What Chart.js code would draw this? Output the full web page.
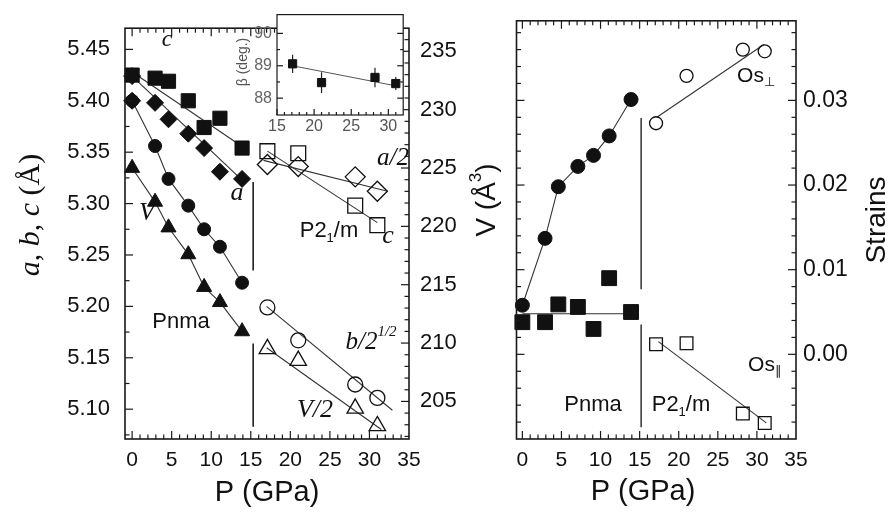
<!DOCTYPE html>
<html>
<head>
<meta charset="utf-8">
<script src="https://cdn.jsdelivr.net/npm/chart.js@4.4.1/dist/chart.umd.min.js"></script>
<style>
  body { margin: 0; background: #fff; }
  #wrap { position: relative; width: 889px; height: 514px; overflow: hidden; }
  #wrap canvas { position: absolute; top: 0; }
</style>
</head>
<body>
<div id="wrap">
  <canvas id="left" width="505" height="514" style="left:0"></canvas>
  <canvas id="right" width="384" height="514" style="left:505px"></canvas>
  <canvas id="inset" width="180" height="150" style="left:230px"></canvas>
</div>
<script>
const SANS = '"Liberation Sans", Arial, sans-serif';
const SERIF = '"Liberation Serif", "Times New Roman", serif';

// tick labels
const xTicks = [0, 5, 10, 15, 20, 25, 30, 35];
const abcTicks = [5.10, 5.15, 5.20, 5.25, 5.30, 5.35, 5.40, 5.45];
const volTicks = [205, 210, 215, 220, 225, 230, 235];
const strainTicks = [0.00, 0.01, 0.02, 0.03];
const betaXTicks = [15, 20, 25, 30];
const betaTicks = [88, 89, 90];

// pressures (GPa)
const pnmaP = [0, 2.9, 4.6, 7.1, 9.1, 11.1, 13.9];
const pnmaAP = [0, 0, 2.9, 4.6, 7.1, 9.1, 11.1, 13.9];
const p21P = [17.1, 21.0, 28.2, 31.0];

// lattice parameters, Pnma (A)
const pnmaC = [5.425, 5.422, 5.419, 5.400, 5.374, 5.383, 5.354];
const pnmaA = [5.424, 5.400, 5.398, 5.382, 5.368, 5.354, 5.331, 5.324];
const pnmaB = [5.400, 5.356, 5.324, 5.298, 5.275, 5.258, 5.223];
const pnmaV = [225.0, 222.1, 219.9, 217.6, 214.8, 213.5, 211.0];

// lattice parameters, P2_1/m
const p21C = [5.351, 5.349, 5.298, 5.279];
const p21A = [5.338, 5.336, 5.326, 5.312];
const p21B = [5.199, 5.167, 5.124, 5.111];
const p21V = [209.5, 208.5, 204.4, 202.9];

// linear fits
const fitPnmaCP = [0, 14], fitPnmaC = [5.428, 5.355];
const fitPnmaAP = [0, 14], fitPnmaA = [5.424, 5.322];
const fitP21CP = [17.1, 31.0], fitP21C = [5.351, 5.2815];
const fitP21AP = [16.6, 32.3], fitP21A = [5.342, 5.312];
const fitP21BP = [17.0, 32.9], fitP21B = [5.200, 5.099];
const fitP21VP = [17.0, 31.5], fitP21V = [209.6, 202.6];

// phase boundary
const boundaryP = [15.3, 15.3];
const boundaryUpper = [5.321, 5.235];
const boundaryLower = [5.164, 5.083];

// octahedral strains
const osPerpPnma = [0.0058, 0.0137, 0.0198, 0.0222, 0.0235, 0.0258, 0.0301];
const osParPnma = [0.0038, 0.0038, 0.0059, 0.0056, 0.0030, 0.0090, 0.0050];
const osPerpP21 = [0.0273, 0.0329, 0.0360, 0.0358];
const osParP21 = [0.0012, 0.0013, -0.0070, -0.0081];
const fitParPnmaP = [0, 13.9], fitParPnma = [0.0048, 0.0048];
const fitPerpP21P = [17.2, 30.9], fitPerpP21 = [0.0280, 0.0366];
const fitParP21P = [17.4, 31.2], fitParP21 = [0.0015, -0.0081];
const strainBoundaryP = [15.2, 15.2];
const strainBoundaryUpper = [0.0279, 0.0077];
const strainBoundaryLower = [0.0035, -0.0086];

// monoclinic angle
const beta = [89.06, 88.48, 88.64, 88.45];
const betaErr = [0.28, 0.32, 0.30, 0.20];
const fitBetaP = [17.1, 31.0], fitBeta = [89.0, 88.38];

Chart.defaults.font.family = SANS;
Chart.defaults.color = '#111';

function pts(xs, ys) { return xs.map((x, i) => ({ x: x, y: ys[i] })); }

function marks(data, style, r, axis, open) {
  return {
    data: data, yAxisID: axis, pointStyle: style, pointRadius: r, pointHoverRadius: r,
    pointBackgroundColor: open ? 'rgba(0,0,0,0)' : '#111', pointBorderColor: '#111',
    pointBorderWidth: open ? 1.3 : 1, showLine: false, clip: false, order: 0
  };
}
function joined(ds) {
  return Object.assign(ds, { showLine: true, borderColor: '#333', borderWidth: 1.1 });
}
function line(data, axis, color, width) {
  return {
    data: data, yAxisID: axis, showLine: true, pointRadius: 0, pointHoverRadius: 0,
    borderColor: color || '#333', borderWidth: width || 1.1, clip: false, order: 5
  };
}

function drawRich(ctx, parts, size, align) {
  const runs = parts.map(p => (typeof p === 'string' ? { t: p } : p)).map(p => {
    const fs = p.sub || p.sup ? Math.round(size * 0.6) : size;
    const font = (p.i ? 'italic ' : '') + fs + 'px ' + (p.i || p.serif ? SERIF : SANS);
    ctx.font = font;
    return { t: p.t, font: font, w: ctx.measureText(p.t).width,
             dy: p.sub ? size * 0.32 : p.sup ? -size * 0.38 : 0 };
  });
  const total = runs.reduce((s, r) => s + r.w, 0);
  let x = align === 'left' ? 0 : align === 'right' ? -total : -total / 2;
  ctx.textBaseline = 'middle';
  ctx.textAlign = 'left';
  runs.forEach(r => { ctx.font = r.font; ctx.fillText(r.t, x, r.dy); x += r.w; });
}

// frame box and inward ticks
const frameTicks = {
  id: 'frameTicks',
  beforeDraw(chart, args, opts) {
    if (!opts.fill) return;
    const a = chart.chartArea;
    chart.ctx.save();
    chart.ctx.fillStyle = opts.fill;
    chart.ctx.fillRect(a.left, a.top, a.right - a.left, a.bottom - a.top);
    chart.ctx.restore();
  },
  afterDatasetsDraw(chart, args, opts) {
    const ctx = chart.ctx, a = chart.chartArea;
    ctx.save();
    ctx.strokeStyle = '#1a1a1a';
    ctx.lineWidth = 1.2;
    (opts.marks || []).forEach(m => {
      const s = chart.scales[m.scale];
      const n = Math.round((m.to - m.from) / m.step);
      for (let i = 0; i <= n; i++) {
        const v = m.from + i * m.step;
        const major = Math.abs(v / m.major - Math.round(v / m.major)) < 1e-6;
        const len = major ? (m.majorLen || 8) : (m.minorLen || 4.5);
        const p = s.getPixelForValue(v);
        ctx.beginPath();
        if (m.edge === 'bottom') { ctx.moveTo(p, a.bottom); ctx.lineTo(p, a.bottom - len); }
        if (m.edge === 'top') { ctx.moveTo(p, a.top); ctx.lineTo(p, a.top + len); }
        if (m.edge === 'left') { ctx.moveTo(a.left, p); ctx.lineTo(a.left + len, p); }
        if (m.edge === 'right') { ctx.moveTo(a.right, p); ctx.lineTo(a.right - len, p); }
        ctx.stroke();
      }
    });
    ctx.lineWidth = opts.width || 1.6;
    ctx.strokeRect(a.left, a.top, a.right - a.left, a.bottom - a.top);
    ctx.restore();
  }
};

// free text: labels, axis titles with sub/superscripts
const notes = {
  id: 'notes',
  afterDraw(chart, args, opts) {
    const ctx = chart.ctx;
    (opts.items || []).forEach(it => {
      ctx.save();
      ctx.fillStyle = it.color || '#111';
      ctx.translate(it.x, it.y);
      if (it.rotate) ctx.rotate(-Math.PI / 2);
      drawRich(ctx, it.parts, it.size, it.align || 'center');
      ctx.restore();
    });
  }
};

// vertical error bars for the inset
const errBars = {
  id: 'errBars',
  beforeDatasetsDraw(chart, args, opts) {
    if (!opts.err) return;
    const ctx = chart.ctx, xs = chart.scales.x, ys = chart.scales.y;
    ctx.save();
    ctx.strokeStyle = '#222';
    ctx.lineWidth = 1.2;
    opts.xs.forEach((x, i) => {
      const px = xs.getPixelForValue(x);
      ctx.beginPath();
      ctx.moveTo(px, ys.getPixelForValue(opts.ys[i] - opts.err[i]));
      ctx.lineTo(px, ys.getPixelForValue(opts.ys[i] + opts.err[i]));
      ctx.stroke();
    });
    ctx.restore();
  }
};

function fixedTicks(values) {
  return s => { s.ticks = values.map(v => ({ value: v })); };
}
function axisStyle(extra) {
  return Object.assign({
    grid: { display: false, drawTicks: false },
    border: { display: false }
  }, extra);
}

// lattice parameters vs pressure
new Chart(document.getElementById('left'), {
  type: 'scatter',
  data: {
    datasets: [
      marks(pts(pnmaP, pnmaC), 'rect', 10, 'y'),
      marks(pts(pnmaAP, pnmaA), 'rectRot', 8.5, 'y'),
      joined(marks(pts(pnmaP, pnmaB), 'circle', 6.5, 'y')),
      joined(marks(pts(pnmaP, pnmaV), 'triangle', 8.7, 'yV')),
      marks(pts(p21P, p21C), 'rect', 10.5, 'y', true),
      marks(pts(p21P, p21A), 'rectRot', 10, 'y', true),
      marks(pts(p21P, p21B), 'circle', 7.5, 'y', true),
      marks(pts(p21P, p21V), 'triangle', 9.5, 'yV', true),
      line(pts(fitPnmaCP, fitPnmaC), 'y'),
      line(pts(fitPnmaAP, fitPnmaA), 'y'),
      line(pts(fitP21CP, fitP21C), 'y'),
      line(pts(fitP21AP, fitP21A), 'y'),
      line(pts(fitP21BP, fitP21B), 'y'),
      line(pts(fitP21VP, fitP21V), 'yV'),
      line(pts(boundaryP, boundaryUpper), 'y', '#111', 1.5),
      line(pts(boundaryP, boundaryLower), 'y', '#111', 1.5)
    ]
  },
  options: {
    responsive: false,
    animation: false,
    layout: { padding: { top: 13 } },
    plugins: {
      legend: { display: false },
      tooltip: { enabled: false },
      frameTicks: {
        marks: [
          { scale: 'x', edge: 'bottom', from: 0, to: 34, step: 1, major: 5 },
          { scale: 'x', edge: 'top', from: 0, to: 34, step: 1, major: 5 },
          { scale: 'y', edge: 'left', from: 5.075, to: 5.45, step: 0.025, major: 0.05 },
          { scale: 'yV', edge: 'right', from: 202, to: 236, step: 1, major: 5 }
        ]
      },
      notes: {
        items: [
          { x: 167, y: 40, size: 24, parts: [{ t: 'c', i: true }] },
          { x: 237, y: 193, size: 26, parts: [{ t: 'a', i: true }] },
          { x: 147, y: 213, size: 26, parts: [{ t: 'V', i: true }] },
          { x: 181, y: 322, size: 22, parts: ['Pnma'] },
          { x: 329, y: 231, size: 22, parts: ['P2', { t: '1', sub: true }, '/m'] },
          { x: 388, y: 236, size: 26, parts: [{ t: 'c', i: true }] },
          { x: 393, y: 158, size: 25, parts: [{ t: 'a/2', i: true }] },
          { x: 371, y: 342, size: 25, parts: [{ t: 'b/2', i: true }, { t: '1/2', sup: true, i: true }] },
          { x: 315, y: 410, size: 26, parts: [{ t: 'V/2', i: true }] },
          { x: 31, y: 215, size: 30, rotate: true,
            parts: [{ t: 'a', i: true }, { t: ', ', serif: true }, { t: 'b', i: true },
                    { t: ', ', serif: true }, { t: 'c', i: true }, { t: ' (Å)', serif: true }] },
          { x: 267, y: 493, size: 29, parts: ['P (GPa)'] },
          { x: 487, y: 200, size: 28, rotate: true, parts: ['V (Å', { t: '3', sup: true }, ')'] }
        ]
      }
    },
    scales: {
      x: axisStyle({
        type: 'linear', position: 'bottom', min: -0.9, max: 35,
        afterBuildTicks: fixedTicks(xTicks),
        afterFit: s => { s.height = 75; },
        ticks: { font: { size: 21 }, padding: 9, maxRotation: 0, autoSkip: false }
      }),
      y: axisStyle({
        type: 'linear', position: 'left', min: 5.071, max: 5.4706,
        afterBuildTicks: fixedTicks(abcTicks),
        afterFit: s => { s.width = 125; },
        ticks: { font: { size: 22 }, padding: 15, autoSkip: false, callback: v => v.toFixed(2) }
      }),
      yV: axisStyle({
        type: 'linear', position: 'right', min: 201.78, max: 236.98,
        afterBuildTicks: fixedTicks(volTicks),
        afterFit: s => { s.width = 96; },
        ticks: { font: { size: 22 }, padding: 11, autoSkip: false }
      })
    }
  },
  plugins: [frameTicks, notes]
});

// octahedral strains vs pressure
new Chart(document.getElementById('right'), {
  type: 'scatter',
  data: {
    datasets: [
      joined(marks(pts(pnmaP, osPerpPnma), 'circle', 7, 'y')),
      marks(pts(pnmaP, osParPnma), 'rect', 10.5, 'y'),
      marks(pts(p21P, osPerpP21), 'circle', 6.5, 'y', true),
      marks(pts(p21P, osParP21), 'rect', 9, 'y', true),
      line(pts(fitParPnmaP, fitParPnma), 'y'),
      line(pts(fitPerpP21P, fitPerpP21), 'y'),
      line(pts(fitParP21P, fitParP21), 'y'),
      line(pts(strainBoundaryP, strainBoundaryUpper), 'y', '#444', 1),
      line(pts(strainBoundaryP, strainBoundaryLower), 'y', '#444', 1)
    ]
  },
  options: {
    responsive: false,
    animation: false,
    layout: { padding: { top: 14, left: 5 } },
    plugins: {
      legend: { display: false },
      tooltip: { enabled: false },
      frameTicks: {
        marks: [
          { scale: 'x', edge: 'bottom', from: 0, to: 34, step: 1, major: 5 },
          { scale: 'x', edge: 'top', from: 0, to: 34, step: 1, major: 5 },
          { scale: 'y', edge: 'left', from: -0.008, to: 0.038, step: 0.002, major: 0.01 },
          { scale: 'y', edge: 'right', from: -0.008, to: 0.038, step: 0.002, major: 0.01 }
        ]
      },
      notes: {
        items: [
          { x: 251, y: 76, size: 21, parts: ['Os', { t: '⊥', sub: true }] },
          { x: 260, y: 365, size: 21, parts: ['Os', { t: '∥', sub: true }] },
          { x: 88, y: 405, size: 22, parts: ['Pnma'] },
          { x: 176, y: 405, size: 22, parts: ['P2', { t: '1', sub: true }, '/m'] },
          { x: 138, y: 492, size: 29, parts: ['P (GPa)'] },
          { x: 372, y: 220, size: 28, rotate: true, parts: ['Strains'] }
        ]
      }
    },
    scales: {
      x: axisStyle({
        type: 'linear', position: 'bottom', min: -0.75, max: 35,
        afterBuildTicks: fixedTicks(xTicks),
        afterFit: s => { s.height = 75; },
        ticks: { font: { size: 21 }, padding: 9, maxRotation: 0, autoSkip: false }
      }),
      y: axisStyle({
        type: 'linear', position: 'right', min: -0.0100, max: 0.0394,
        afterBuildTicks: fixedTicks(strainTicks),
        afterFit: s => { s.width = 93; },
        ticks: { font: { size: 23 }, padding: 7, autoSkip: false, callback: v => v.toFixed(2) }
      })
    }
  },
  plugins: [frameTicks, notes]
});

// inset: monoclinic angle of the P2_1/m phase
new Chart(document.getElementById('inset'), {
  type: 'scatter',
  data: {
    datasets: [
      marks(pts(p21P, beta), 'rect', 5.8, 'y'),
      line(pts(fitBetaP, fitBeta), 'y', '#555', 1)
    ]
  },
  options: {
    responsive: false,
    animation: false,
    layout: { padding: { top: 13, right: 1 } },
    plugins: {
      legend: { display: false },
      tooltip: { enabled: false },
      errBars: { xs: p21P, ys: beta, err: betaErr },
      frameTicks: {
        fill: '#fff',
        width: 1.2,
        marks: [
          { scale: 'x', edge: 'bottom', from: 15, to: 31, step: 1, major: 5, majorLen: 6, minorLen: 3 },
          { scale: 'y', edge: 'left', from: 88, to: 90, step: 0.5, major: 1, majorLen: 6, minorLen: 3 },
          { scale: 'y', edge: 'right', from: 88, to: 90, step: 0.5, major: 1, majorLen: 6, minorLen: 3 }
        ]
      },
      notes: {
        items: [
          { x: 13, y: 62, size: 14, rotate: true, color: '#555', parts: ['β (deg.)'] }
        ]
      }
    },
    scales: {
      x: axisStyle({
        type: 'linear', position: 'bottom', min: 15, max: 32,
        afterBuildTicks: fixedTicks(betaXTicks),
        afterFit: s => { s.height = 35; },
        ticks: { font: { size: 16 }, color: '#555', padding: 2, maxRotation: 0, autoSkip: false }
      }),
      y: axisStyle({
        type: 'linear', position: 'left', min: 87.48, max: 90.58,
        afterBuildTicks: fixedTicks(betaTicks),
        afterFit: s => { s.width = 47; },
        ticks: { font: { size: 16 }, color: '#666', padding: 5, autoSkip: false }
      })
    }
  },
  plugins: [frameTicks, errBars, notes]
});
</script>
</body>
</html>
